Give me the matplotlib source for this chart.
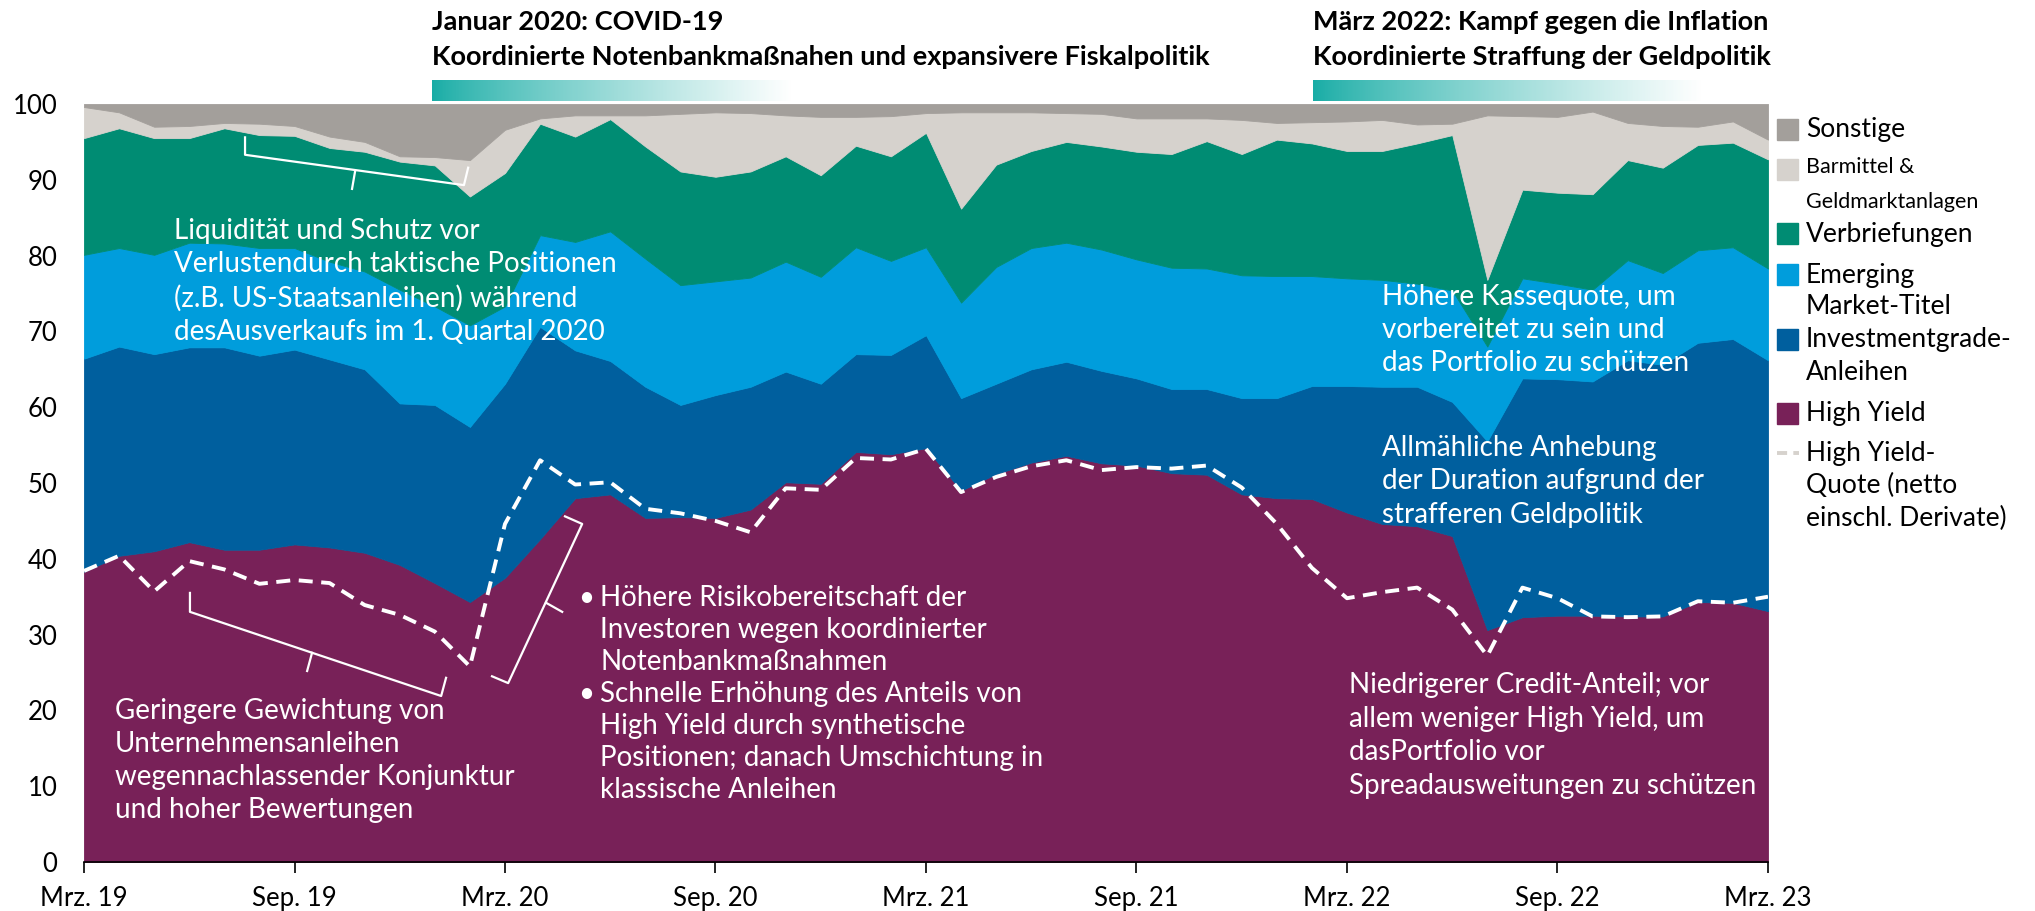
import matplotlib
matplotlib.use("Agg")
import matplotlib.pyplot as plt
import numpy as np
import pandas as pd
from matplotlib.colors import LinearSegmentedColormap
from matplotlib.patches import Rectangle
from matplotlib.lines import Line2D

plt.rcParams['font.family'] = ['Lato', 'DejaVu Sans']

# monthly data, Mrz. 19 .. Mrz. 23 (shares in %)
months = pd.date_range('2019-03-01', '2023-03-01', freq='MS')
tick_labels = ['Mrz. 19', 'Sep. 19', 'Mrz. 20', 'Sep. 20', 'Mrz. 21',
               'Sep. 21', 'Mrz. 22', 'Sep. 22', 'Mrz. 23']

high_yield = [38.3, 40.4, 41.0, 42.2, 41.2, 41.2, 41.9, 41.5, 40.8, 39.2,
              36.8, 34.3, 37.5, 42.6, 48.0, 48.5, 45.4, 45.5, 45.4, 46.5,
              50.1, 49.9, 54.1, 53.8, 54.6, 49.0, 51.2, 52.7, 53.6, 52.6,
              52.3, 51.3, 51.1, 48.5, 48.0, 47.9, 46.1, 44.6, 44.3, 43.0,
              30.6, 32.3, 32.5, 32.5, 32.4, 32.4, 34.3, 34.2, 33.1]
investment_grade = [28.1, 27.6, 26.0, 25.7, 26.7, 25.6, 25.7, 24.8, 24.2, 21.3,
                    23.5, 23.1, 25.6, 28.0, 19.5, 17.6, 17.3, 14.8, 16.2, 16.2,
                    14.6, 13.2, 12.9, 13.1, 14.9, 12.2, 11.9, 12.3, 12.4, 12.2,
                    11.5, 11.1, 11.3, 12.7, 13.2, 14.9, 16.7, 18.1, 18.4, 17.7,
                    24.9, 31.5, 31.2, 30.9, 33.8, 33.2, 34.2, 34.8, 33.1]
emerging = [13.7, 13.0, 13.1, 13.8, 13.7, 14.2, 13.4, 12.9, 12.9, 15.0,
            13.0, 13.4, 10.2, 12.1, 14.3, 17.1, 16.9, 15.8, 15.0, 14.4,
            14.5, 14.1, 14.1, 12.4, 11.6, 12.6, 15.4, 16.0, 15.7, 16.0,
            15.7, 16.0, 15.9, 16.2, 16.1, 14.5, 14.2, 14.1, 13.6, 14.7,
            12.5, 13.2, 12.6, 12.1, 13.2, 12.1, 12.2, 12.1, 12.1]
verbriefungen = [15.4, 15.8, 15.4, 13.8, 15.2, 14.9, 14.8, 15.0, 15.8, 16.9,
                 18.6, 17.0, 17.6, 14.7, 13.9, 14.8, 14.8, 15.0, 13.8, 14.0,
                 13.9, 13.4, 13.4, 13.8, 15.1, 12.4, 13.5, 12.8, 13.3, 13.6,
                 14.2, 15.0, 16.8, 16.0, 18.0, 17.5, 16.8, 17.0, 18.5, 20.5,
                 8.8, 11.7, 12.0, 12.6, 13.2, 13.9, 13.9, 13.8, 14.4]
barmittel = [4.1, 2.1, 1.5, 1.6, 0.7, 1.5, 1.3, 1.5, 1.3, 0.7,
             1.1, 4.8, 5.7, 0.7, 2.8, 0.5, 4.1, 7.6, 8.5, 7.7,
             5.4, 7.7, 3.8, 5.3, 2.6, 12.7, 6.9, 5.1, 3.8, 4.3,
             4.4, 4.7, 3.0, 4.5, 2.2, 2.8, 3.9, 4.1, 2.5, 1.5,
             21.7, 9.7, 10.0, 10.9, 4.9, 5.5, 2.4, 2.8, 2.6]
sonstige = [0.4, 1.1, 3.0, 2.9, 2.5, 2.6, 2.9, 4.3, 5.0, 6.9,
            7.0, 7.4, 3.4, 1.9, 1.5, 1.5, 1.5, 1.3, 1.1, 1.2,
            1.5, 1.7, 1.7, 1.6, 1.2, 1.1, 1.1, 1.1, 1.2, 1.3,
            1.9, 1.9, 1.9, 2.1, 2.5, 2.4, 2.3, 2.1, 2.7, 2.6,
            1.5, 1.6, 1.7, 1.0, 2.5, 2.9, 3.0, 2.3, 4.7]
hy_net = [38.4, 40.4, 35.7, 39.7, 38.6, 36.7, 37.2, 36.8, 33.9, 32.6,
          30.4, 25.8, 44.6, 53.0, 49.8, 50.1, 46.6, 46.0, 45.0, 43.5,
          49.3, 49.1, 53.3, 53.1, 54.5, 48.8, 50.8, 52.2, 53.0, 51.7,
          52.1, 51.9, 52.3, 49.4, 44.6, 38.8, 34.8, 35.6, 36.2, 33.3,
          27.2, 36.2, 34.8, 32.4, 32.3, 32.4, 34.4, 34.2, 35.0]

colors = ['#782158', '#005f9e', '#009ddc', '#008c73', '#d6d2cd', '#a39f9b']

W, H = 2035, 911
def fx(px):
    return px / W
def fy(py):
    return 1 - py / H

fig = plt.figure(figsize=(W / 100, H / 100), dpi=100)
ax = fig.add_axes([fx(84), fy(862), fx(1768) - fx(84), fy(104) - fy(862)])

x = np.arange(len(months))
polys = ax.stackplot(x, high_yield, investment_grade, emerging, verbriefungen,
                     barmittel, sonstige, colors=colors)
for p, c in zip(polys, colors):
    p.set_edgecolor(c)
    p.set_linewidth(0.6)
ax.plot(x, hy_net, color='white', lw=2.8, dashes=(3.6, 2.2))

ax.set_xlim(0, len(months) - 1)
ax.set_ylim(0, 100)
ax.set_xticks(x[::6])
ax.set_xticklabels(tick_labels)
ax.set_yticks(range(0, 101, 10))
ax.tick_params(axis='x', length=8, width=1.2, pad=9, labelsize=18.5)
ax.tick_params(axis='y', length=0, pad=19, labelsize=18.5)
for s in ['left', 'right', 'top']:
    ax.spines[s].set_visible(False)
ax.spines['bottom'].set_linewidth(1.2)

# brackets
brackets = [
    ([4.59, 4.59, 10.83, 10.95], [95.6, 93.3, 89.3, 91.6], [7.73, 7.64], [91.2, 88.8]),
    ([3.02, 3.02, 10.18, 10.32], [35.5, 33.0, 21.9, 24.3], [6.5, 6.36], [27.6, 25.2]),
    ([11.63, 12.09, 14.2, 13.71], [24.5, 23.6, 44.6, 45.6], [13.17, 13.63], [34.2, 33.0]),
]
for bx, by, tx, ty in brackets:
    ax.plot(bx, by, color='white', lw=1.6)
    ax.plot(tx, ty, color='white', lw=1.6)

def block(lines, px, py0, step, size=20, color='white', **kw):
    for k, line in enumerate(lines):
        fig.text(fx(px), fy(py0 + k * step), line, color=color, fontsize=size,
                 va='center', ha='left', **kw)

block(['Liquidität und Schutz vor', 'Verlustendurch taktische Positionen',
       '(z.B. US-Staatsanleihen) während', 'desAusverkaufs im 1. Quartal 2020'],
      174, 231, 33.5)
block(['Geringere Gewichtung von', 'Unternehmensanleihen',
       'wegennachlassender Konjunktur', 'und hoher Bewertungen'],
      115, 711, 33)
block(['Höhere Risikobereitschaft der', 'Investoren wegen koordinierter',
       'Notenbankmaßnahmen', 'Schnelle Erhöhung des Anteils von',
       'High Yield durch synthetische', 'Positionen; danach Umschichtung in',
       'klassische Anleihen'], 600, 598, 32)
block(['•'], 578, 598, 0)
block(['•'], 578, 694, 0)
block(['Höhere Kassequote, um', 'vorbereitet zu sein und',
       'das Portfolio zu schützen'], 1382, 297, 33)
block(['Allmähliche Anhebung', 'der Duration aufgrund der',
       'strafferen Geldpolitik'], 1382, 448, 33.5)
block(['Niedrigerer Credit-Anteil; vor', 'allem weniger High Yield, um',
       'dasPortfolio vor', 'Spreadausweitungen zu schützen'], 1349, 685, 33.7)

# headers with gradient bars
teal = LinearSegmentedColormap.from_list('teal', ['#17aca5', '#ffffff'])
grad = np.linspace(0, 1, 256) ** 0.8
for hx, bar_w, l1, l2 in [(432, 360, 'Januar 2020: COVID-19',
                           'Koordinierte Notenbankmaßnahen und expansivere Fiskalpolitik'),
                          (1313, 390, 'März 2022: Kampf gegen die Inflation',
                           'Koordinierte Straffung der Geldpolitik')]:
    fig.text(fx(hx), fy(30), l1, fontsize=19.5, fontweight='bold', va='baseline')
    fig.text(fx(hx), fy(65), l2, fontsize=19.5, fontweight='bold', va='baseline')
    bax = fig.add_axes([fx(hx), fy(101), bar_w / W, 21 / H])
    bax.imshow(grad[None, :], aspect='auto', cmap=teal, vmin=0, vmax=1)
    bax.axis('off')

# legend
legend_items = [
    (colors[5], 119, ['Sonstige'], 130, 19),
    (colors[4], 159, ['Barmittel &', 'Geldmarktanlagen'], 167, 15.5),
    (colors[3], 223, ['Verbriefungen'], 235, 19),
    (colors[2], 264, ['Emerging', 'Market-Titel'], 275, 19),
    (colors[1], 329, ['Investmentgrade-', 'Anleihen'], 340, 19),
    (colors[0], 403, ['High Yield'], 413, 19),
]
for c, sy, lines, ty, size in legend_items:
    fig.patches.append(Rectangle((fx(1777), fy(sy + 21)), 21 / W, 21 / H,
                                 transform=fig.transFigure, color=c))
    block(lines, 1806, ty, 32 if size == 19 else 35, size=size, color='black')
fig.lines.append(Line2D([fx(1777), fx(1799)], [fy(453), fy(453)],
                        transform=fig.transFigure, color='#d6d2cd', lw=2.8,
                        dashes=(2.6, 1.6)))
block(['High Yield-', 'Quote (netto', 'einschl. Derivate)'], 1806, 453, 32.5,
      size=19, color='black')

fig.savefig('out.png', dpi=100)
